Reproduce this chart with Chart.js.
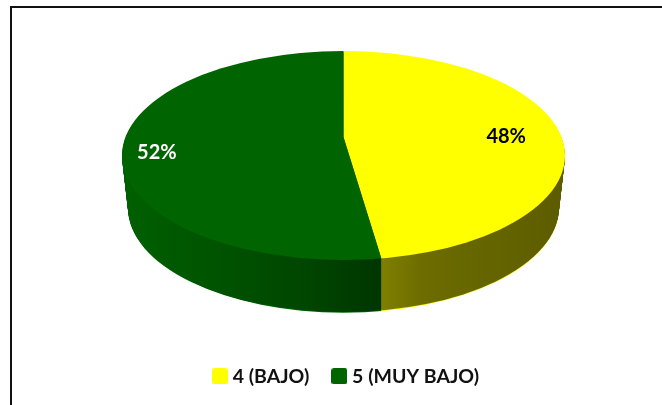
<!DOCTYPE html>
<html>
<head>
<meta charset="utf-8">
<style>
  html, body { margin: 0; padding: 0; background: #fff; overflow: hidden; }
  canvas { display: block; }
</style>
<script src="https://cdn.jsdelivr.net/npm/chart.js@4/dist/chart.umd.min.js"></script>
</head>
<body>
<canvas id="chart" width="662" height="405"></canvas>
<script>
const categories = ['4 (BAJO)', '5 (MUY BAJO)'];
const values = [48, 52];

const sliceColors = ['#ffff00', '#006400'];
const labelColors = ['#000000', '#ffffff'];
const labelFont = 'bold 20px Lato';

// the 3d look: rim of the top face, and where the (perspective shifted) centre sits
const top3d = { x: 343.5, y: 155.5, rx: 221.5, ry: 104.5 };
const apex = { x: 343.5, y: 137 };
const depth = 52;
const bottomShrink = 6;
const wedgeX = 400;
const wedgeY = 162;
const labelShift = [[1, 4], [1, 11]];

function sideGradient(ctx, arc, scaleX, stops) {
  const left = arc.x + (122 - apex.x) / scaleX;
  const right = arc.x + (565 - apex.x) / scaleX;
  const g = ctx.createLinearGradient(left, 0, right, 0);
  stops.forEach(([at, color]) => g.addColorStop(at, color));
  return g;
}

// legend swatch, slightly rounded square
function swatch(color) {
  const c = document.createElement('canvas');
  c.width = 16;
  c.height = 16;
  const g = c.getContext('2d');
  g.fillStyle = color;
  g.beginPath();
  g.roundRect(0, 0, 16, 16, 2.5);
  g.fill();
  return c;
}

const fake3d = {
  id: 'fake3d',
  beforeDraw(chart) {
    const { ctx } = chart;
    ctx.save();
    ctx.strokeStyle = '#111';
    ctx.lineWidth = 2;
    ctx.beginPath();
    ctx.moveTo(662, 7);
    ctx.lineTo(11, 7);
    ctx.lineTo(11, 405);
    ctx.stroke();
    ctx.restore();
  },
  beforeDatasetsDraw(chart) {
    const { ctx } = chart;
    const arcs = chart.getDatasetMeta(0).data;
    const scaleX = wedgeX / arcs[0].outerRadius;
    const scaleY = wedgeY / arcs[0].outerRadius;

    const sideFills = [
      sideGradient(ctx, arcs[0], scaleX, [[0.58, '#808000'], [0.68, '#6c6c00'], [1, '#5c5c00']]),
      sideGradient(ctx, arcs[1], scaleX, [[0, '#006000'], [0.2, '#005400'], [0.42, '#004500'], [0.585, '#003600']]),
    ];

    const paintLayer = (d, fills) => {
      const shrink = (d / depth) * bottomShrink;
      ctx.save();
      ctx.beginPath();
      ctx.ellipse(top3d.x, top3d.y + d, top3d.rx - shrink, top3d.ry, 0, 0, Math.PI * 2);
      ctx.clip();
      ctx.translate(apex.x, apex.y + d);
      ctx.scale(scaleX, scaleY);
      arcs.forEach((arc, i) => {
        const keep = arc.options;
        arc.options = { ...keep, backgroundColor: fills[i] };
        ctx.save();
        ctx.translate(-arc.x, -arc.y);
        arc.draw(ctx);
        ctx.restore();
        arc.options = keep;
      });
      ctx.restore();
    };

    // thin bright edge under the wall, then the wall, then the top face
    paintLayer(depth + 0.7, sliceColors);
    for (let d = depth; d > 0; d -= 1) paintLayer(d, sideFills);
    paintLayer(0, sliceColors);

    const total = values.reduce((a, b) => a + b, 0);
    let start = 0;
    ctx.save();
    ctx.font = labelFont;
    ctx.textAlign = 'center';
    ctx.textBaseline = 'middle';
    values.forEach((v, i) => {
      const mid = (start + v / 2) / total * Math.PI * 2;
      start += v;
      const reach = i === 0 ? 0.405 : 0.47;
      const x = apex.x + Math.sin(mid) * wedgeX * reach + labelShift[i][0];
      const y = apex.y - Math.cos(mid) * wedgeY * reach + labelShift[i][1];
      ctx.fillStyle = labelColors[i];
      ctx.fillText(Math.round(v / total * 100) + '%', x, y);
    });
    ctx.restore();
    return false;
  },
};

new Chart(document.getElementById('chart'), {
  type: 'pie',
  data: {
    labels: categories,
    datasets: [{
      data: values,
      backgroundColor: sliceColors,
      borderWidth: 0,
    }],
  },
  options: {
    responsive: false,
    animation: false,
    layout: { padding: { left: 34, right: 0, top: 20, bottom: 9 } },
    plugins: {
      tooltip: { enabled: false },
      legend: {
        position: 'bottom',
        labels: {
          color: '#111',
          usePointStyle: true,
          pointStyleWidth: 6,
          boxHeight: 16,
          padding: 27,
          font: { family: 'Lato', size: 19.5, weight: 'bold' },
          generateLabels: () => categories.map((text, i) => ({
            text,
            index: i,
            fontColor: '#111',
            pointStyle: swatch(sliceColors[i]),
            lineWidth: 0,
          })),
        },
      },
    },
  },
  plugins: [fake3d],
});
</script>
</body>
</html>
